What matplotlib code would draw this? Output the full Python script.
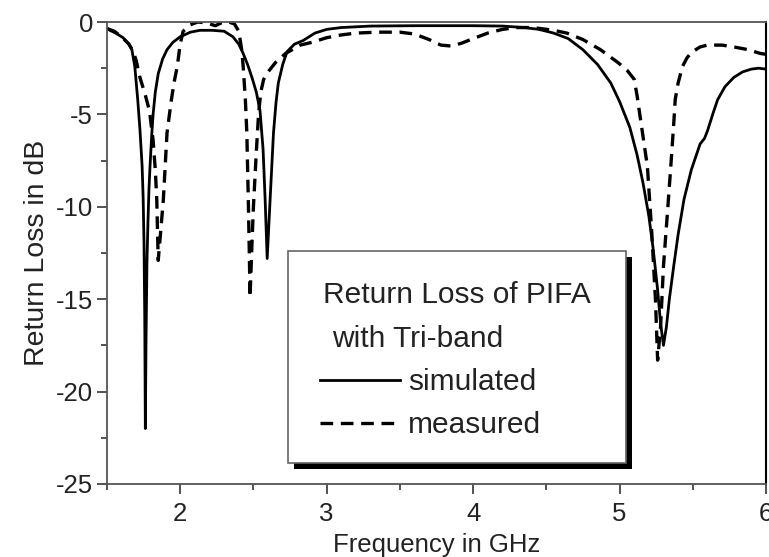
#!/usr/bin/env python3
"""
Return loss of the tri-band PIFA: simulated vs measured S11 over 1.5-6 GHz.
"""

import matplotlib
matplotlib.use("Agg")
import matplotlib.pyplot as plt
from matplotlib.patches import Rectangle
from matplotlib.ticker import MultipleLocator

# simulated response (GHz, dB)
sim_freq = [1.50, 1.52, 1.56, 1.61, 1.65, 1.67, 1.69, 1.71, 1.725, 1.74,
            1.747, 1.753, 1.758, 1.762, 1.767, 1.773, 1.78, 1.787, 1.794, 1.805,
            1.815, 1.83, 1.85, 1.88, 1.91, 1.95, 2.00, 2.07, 2.135, 2.22,
            2.30, 2.36, 2.40, 2.43, 2.46, 2.49, 2.52, 2.545, 2.566, 2.58,
            2.594, 2.614, 2.637, 2.655, 2.67, 2.70, 2.73, 2.78, 2.84, 2.92,
            3.00, 3.10, 3.30, 3.60, 4.00, 4.20, 4.35, 4.45, 4.55, 4.65,
            4.75, 4.85, 4.94, 5.00, 5.07, 5.12, 5.16, 5.20, 5.23, 5.26,
            5.28, 5.30, 5.32, 5.34, 5.37, 5.40, 5.44, 5.49, 5.55, 5.58,
            5.60, 5.64, 5.67, 5.72, 5.78, 5.84, 5.90, 5.95, 6.00]
sim_db = [-0.35, -0.45, -0.6, -0.85, -1.2, -1.5, -2.4, -4.2, -5.8, -7.8,
          -9.5, -12.0, -16.0, -22.0, -17.0, -13.0, -10.8, -9.0, -7.8, -6.2,
          -5.0, -3.8, -2.8, -2.0, -1.5, -1.1, -0.8, -0.55, -0.45, -0.45,
          -0.5, -0.8, -1.2, -1.7, -2.3, -3.0, -3.8, -4.8, -6.9, -9.6,
          -12.8, -9.6, -6.0, -4.3, -3.3, -2.3, -1.6, -1.2, -1.0, -0.6,
          -0.4, -0.3, -0.22, -0.2, -0.2, -0.22, -0.3, -0.4, -0.6, -0.9,
          -1.5, -2.3, -3.3, -4.3, -5.7, -7.2, -8.7, -10.5, -12.3, -14.5,
          -16.3, -17.5, -16.5, -15.0, -13.2, -11.5, -9.6, -8.0, -6.6, -6.3,
          -5.9, -4.9, -4.2, -3.5, -3.0, -2.7, -2.55, -2.5, -2.55]

# measured response (GHz, dB)
meas_freq = [1.50, 1.55, 1.60, 1.65, 1.68, 1.70, 1.725, 1.76, 1.79, 1.815,
             1.83, 1.84, 1.85, 1.865, 1.885, 1.91, 1.94, 1.96, 1.98, 2.00,
             2.02, 2.07, 2.12, 2.18, 2.24, 2.28, 2.33, 2.37, 2.40, 2.42,
             2.43, 2.445, 2.455, 2.465, 2.472, 2.477, 2.49, 2.50, 2.52, 2.535,
             2.55, 2.57, 2.60, 2.65, 2.72, 2.82, 2.90, 3.00, 3.10, 3.20,
             3.35, 3.50, 3.60, 3.70, 3.78, 3.85, 3.92, 4.00, 4.10, 4.20,
             4.30, 4.41, 4.55, 4.64, 4.75, 4.87, 4.99, 5.05, 5.10, 5.12,
             5.14, 5.19, 5.22, 5.245, 5.26, 5.28, 5.30, 5.33, 5.35, 5.37,
             5.38, 5.40, 5.43, 5.46, 5.49, 5.55, 5.60, 5.70, 5.78, 5.88,
             5.96, 6.00]
meas_db = [-0.35, -0.5, -0.8, -1.2, -1.6, -2.1, -3.0, -3.9, -4.8, -6.4,
           -8.0, -9.6, -12.9, -11.5, -9.6, -6.0, -4.2, -3.2, -2.4, -1.2,
           -0.5, -0.15, 0.0, -0.05, -0.2, -0.05, 0.0, -0.1, -0.5, -1.5,
           -2.4, -4.2, -6.0, -9.6, -12.5, -14.9, -12.0, -10.0, -7.0, -5.0,
           -3.8, -3.1, -2.7, -2.2, -1.7, -1.25, -1.1, -0.85, -0.7, -0.6,
           -0.55, -0.55, -0.65, -0.95, -1.25, -1.3, -1.15, -0.9, -0.6, -0.4,
           -0.3, -0.3, -0.45, -0.6, -0.95, -1.5, -2.2, -2.6, -3.1, -4.0,
           -5.1, -7.8, -11.4, -15.0, -18.3, -16.5, -13.2, -10.0, -7.8, -5.5,
           -4.2, -3.3, -2.4, -1.95, -1.65, -1.35, -1.25, -1.25, -1.35, -1.5,
           -1.7, -1.75]

x_limits = (1.5, 6.0)
y_limits = (-25, 0)
x_ticks = [2, 3, 4, 5, 6]
y_ticks = [-25, -20, -15, -10, -5, 0]

plt.rcParams['font.family'] = ['Liberation Sans', 'DejaVu Sans']
plt.rcParams['axes.unicode_minus'] = False

fig = plt.figure(figsize=(7.69, 5.57), dpi=100)
ax = fig.add_axes([0.1391, 0.1311, 0.857, 0.8294])

ax.plot(sim_freq, sim_db, color='black', lw=2.0, solid_joinstyle='round')
ax.plot(meas_freq, meas_db, color='black', lw=2.4, dashes=(3.8, 2.3))

ax.set_xlim(*x_limits)
ax.set_ylim(*y_limits)
ax.set_xticks(x_ticks)
ax.set_yticks(y_ticks)
ax.xaxis.set_minor_locator(MultipleLocator(0.5))
ax.yaxis.set_minor_locator(MultipleLocator(2.5))
ax.tick_params(which='major', direction='out', length=7, width=1.1,
               labelsize=18.5, pad=3, colors='#222222')
ax.tick_params(axis='x', which='major', pad=6)
ax.tick_params(which='minor', direction='out', length=4, width=1.1,
               colors='#222222')
for side in ['left', 'bottom', 'top']:
    ax.spines[side].set_color('#555555')
    ax.spines[side].set_linewidth(1.3)
ax.spines['right'].set_color('black')
ax.spines['right'].set_linewidth(1.5)

ax.set_xlabel('Frequency in GHz', fontsize=18.5, labelpad=5, color='#222222')
ax.set_ylabel('Return Loss in dB', fontsize=20.5, labelpad=4, color='#222222')

# framed caption box with a drop shadow
box_x, box_y, box_w, box_h = 0.2747, 0.0455, 0.5129, 0.4589
ax.add_patch(Rectangle((box_x + 0.009, box_y - 0.013), box_w, box_h,
                       transform=ax.transAxes, facecolor='black',
                       edgecolor='none', zorder=4))
ax.add_patch(Rectangle((box_x, box_y), box_w, box_h, transform=ax.transAxes,
                       facecolor='white', edgecolor='#666666', lw=1.2,
                       zorder=5))

txt = dict(transform=ax.transAxes, fontsize=21.5, va='baseline', ha='left',
           color='#222222', zorder=6)
ax.text(0.3278, 0.3918, 'Return Loss of PIFA', **txt)
ax.text(0.3414, 0.2965, 'with Tri-band', **txt)
ax.text(0.4568, 0.2035, 'simulated', **txt)
ax.text(0.4568, 0.1104, 'measured', **txt)
ax.plot([0.3232, 0.4446], [0.2251, 0.2251], transform=ax.transAxes,
        color='black', lw=2.0, zorder=6)
ax.plot([0.3232, 0.4446], [0.132, 0.132], transform=ax.transAxes,
        color='black', lw=2.4, dashes=(3.8, 2.3), zorder=6)

fig.savefig('out.png', dpi=100)
